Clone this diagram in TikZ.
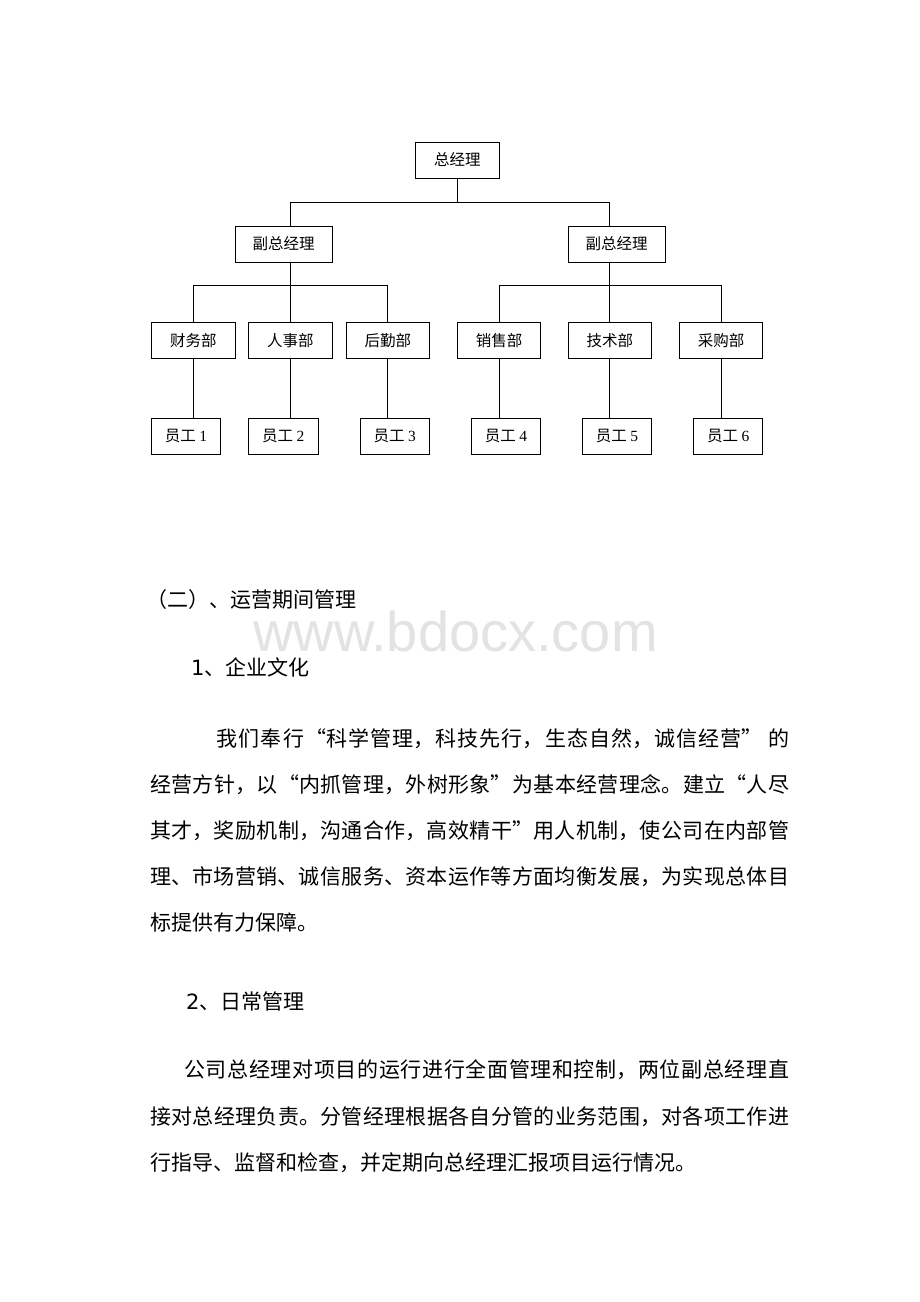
\documentclass[tikz,border=0pt]{standalone}
\usepackage{fontspec}
\setmainfont{Noto Sans CJK SC}
\newfontfamily\numfont{Liberation Serif}
\newfontfamily\verfont{DejaVu Sans}
\newfontfamily\wmfont{Liberation Sans}
\newcommand\jline[2]{\parbox[b]{#1}{\XeTeXlinebreaklocale "zh"\XeTeXlinebreakskip=0pt plus 4pt\relax\parfillskip=0pt\relax\noindent #2}}
\begin{document}
\begin{tikzpicture}[x=1pt,y=-1pt,
  box/.style={draw, line width=0.95pt, minimum height=36pt, inner sep=0pt, font=\fontsize{15.5}{18}\selectfont},
  gmbox/.style={box, minimum width=83.5pt},
  vbox/.style={box, minimum width=97pt},
  dbox/.style={box, minimum width=83.5pt},
  ebox/.style={box, minimum width=69.5pt},
  conn/.style={line width=0.95pt},
  body/.style={anchor=base west, inner sep=0pt, font=\fontsize{21}{25}\selectfont},
  wm/.style={anchor=base west, inner sep=0pt, text=black!11, font=\wmfont\fontsize{56}{58}\selectfont}]
\fill[white] (0,0) rectangle (920,1302);
\useasboundingbox (0,0) rectangle (920,1302);

% org chart
\node[gmbox] (gm) at (457.25,160) {总经理};
\node[vbox] (v1) at (283.5,244) {副总经理};
\node[vbox] (v2) at (616.5,244) {副总经理};
\node[dbox] (d1) at (193.25,340.3) {财务部};
\node[dbox] (d2) at (290.25,340.3) {人事部};
\node[dbox] (d3) at (387.75,340.3) {后勤部};
\node[dbox] (d4) at (499,340.3) {销售部};
\node[dbox] (d5) at (609.85,340.3) {技术部};
\node[dbox] (d6) at (721.2,340.3) {采购部};
\node[ebox] (e1) at (186,436.2) {员工 {\numfont 1}};
\node[ebox] (e2) at (283.3,436.2) {员工 {\numfont 2}};
\node[ebox] (e3) at (394.75,436.2) {员工 {\numfont 3}};
\node[ebox] (e4) at (505.9,436.2) {员工 {\numfont 4}};
\node[ebox] (e5) at (617,436.2) {员工 {\numfont 5}};
\node[ebox] (e6) at (728.15,436.2) {员工 {\numfont 6}};

\coordinate (b1) at (457.25,202);
\coordinate (b2) at (290.25,285.7);
\coordinate (b3) at (609.85,285.7);
\draw[conn] (gm.south) -- (b1);
\draw[conn] (v1.north -| d2.north) -- (d2.north |- b1) -- (d5.north |- b1) -- (v2.north -| d5.north);
\draw[conn] (v1.south -| d2.north) -- (d2.north);
\draw[conn] (d1.north) -- (d1.north |- b2) -- (d3.north |- b2) -- (d3.north);
\draw[conn] (v2.south -| d5.north) -- (d5.north);
\draw[conn] (d4.north) -- (d4.north |- b3) -- (d6.north |- b3) -- (d6.north);
\foreach \i in {1,...,6} {
  \draw[conn] (d\i.south) -- (d\i.south |- e\i.north);
}

% watermark
\node[wm] (wmk) at (253,651) {www.bdocx.com};

% text
\node[body] (h2) at (146,607) {（二）、运营期间管理};
\node[body] (s1) at (191,675) {{\verfont 1}、企业文化};
\node[body] (p1a) at (216.5,746) {\jline{572.5pt}{我们奉行“科学管理，科技先行，生态自然，诚信经营” 的}};
\node[body] (p1b) at (150,792) {\jline{639pt}{经营方针，以“内抓管理，外树形象”为基本经营理念。建立“人尽}};
\node[body] (p1c) at (150,838) {\jline{639pt}{其才，奖励机制，沟通合作，高效精干”用人机制，使公司在内部管}};
\node[body] (p1d) at (150,884) {\jline{639pt}{理、市场营销、诚信服务、资本运作等方面均衡发展，为实现总体目}};
\node[body] (p1e) at (150,930) {标提供有力保障。};
\node[body] (s2) at (186,1009) {{\verfont 2}、日常管理};
\node[body] (p2a) at (184,1077) {\jline{605pt}{公司总经理对项目的运行进行全面管理和控制，两位副总经理直}};
\node[body] (p2b) at (150,1124) {\jline{639pt}{接对总经理负责。分管经理根据各自分管的业务范围，对各项工作进}};
\node[body] (p2c) at (150,1170) {行指导、监督和检查，并定期向总经理汇报项目运行情况。};
\end{tikzpicture}
\end{document}
